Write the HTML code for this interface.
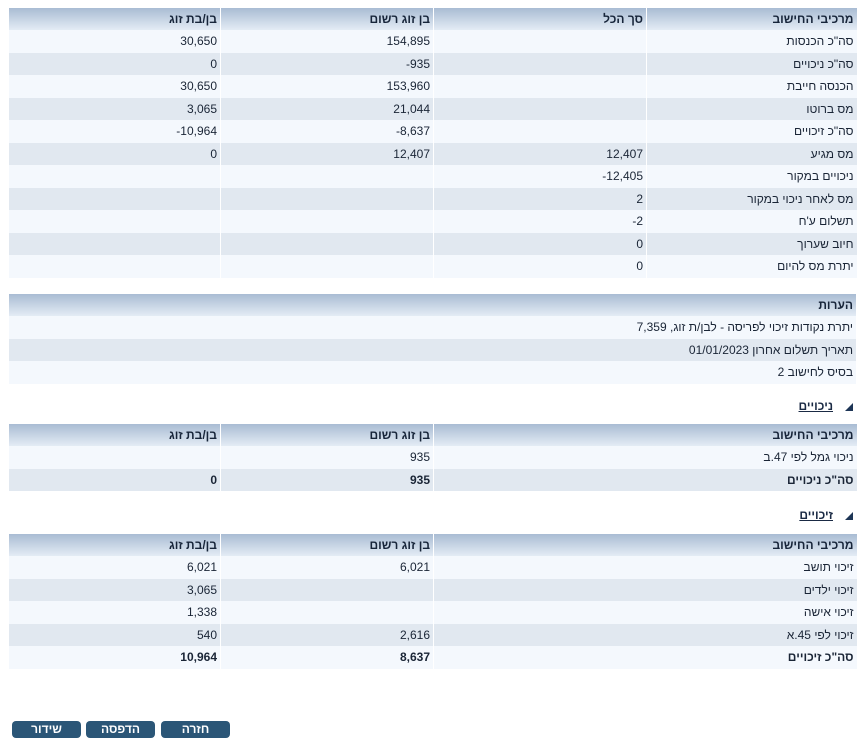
<!DOCTYPE html>
<html><head><meta charset="utf-8"><style>
body{margin:0;width:867px;height:742px;background:#fff;font-family:Arial,"Liberation Sans","Noto Sans CJK SC",sans-serif;font-size:12px;color:#1a2536;position:relative;overflow:hidden}
table{position:absolute;left:8px;width:848px;border-collapse:collapse;direction:rtl;table-layout:fixed}
td,th{height:22.5px;padding:0 3px;text-align:right;border-left:1px solid #fff;white-space:nowrap;overflow:hidden}
th{background:linear-gradient(#a9bcd3,#e4ecf5);font-weight:bold;height:22px;color:#17253a}
tr:nth-child(even) td{background:#f4f8fd}
tr:nth-child(odd) td{background:#e1e8f0}
.b td{font-weight:bold}
.lnk{position:absolute;right:14px;direction:rtl;font-weight:bold;text-decoration:underline;color:#1a2a44}
.lnk span{display:inline-block;width:0;height:0;border-bottom:8px solid #1d3556;border-left:8px solid transparent;margin-left:12px;text-decoration:none;vertical-align:-1px}
.btn{position:absolute;top:721px;height:17px;width:69px;background:#2b5677;color:#fff;border-radius:4px;text-align:center;line-height:17px;font-weight:bold;font-size:12px}
</style></head><body>
<table style="top:8px">
<colgroup><col style="width:210px"><col style="width:213px"><col style="width:213px"><col style="width:212px"></colgroup>
<tr><th>מרכיבי החישוב</th><th>סך הכל</th><th>בן זוג רשום</th><th>בן/בת זוג</th></tr>
<tr><td>סה"כ הכנסות</td><td></td><td>154,895</td><td>30,650</td></tr>
<tr><td>סה"כ ניכויים</td><td></td><td dir="ltr">-935</td><td>0</td></tr>
<tr><td>הכנסה חייבת</td><td></td><td>153,960</td><td>30,650</td></tr>
<tr><td>מס ברוטו</td><td></td><td>21,044</td><td>3,065</td></tr>
<tr><td>סה"כ זיכויים</td><td></td><td dir="ltr">-8,637</td><td dir="ltr">-10,964</td></tr>
<tr><td>מס מגיע</td><td>12,407</td><td>12,407</td><td>0</td></tr>
<tr><td>ניכויים במקור</td><td dir="ltr">-12,405</td><td></td><td></td></tr>
<tr><td>מס לאחר ניכוי במקור</td><td>2</td><td></td><td></td></tr>
<tr><td>תשלום ע'ח</td><td dir="ltr">-2</td><td></td><td></td></tr>
<tr><td>חיוב שערוך</td><td>0</td><td></td><td></td></tr>
<tr><td>יתרת מס להיום</td><td>0</td><td></td><td></td></tr>
</table>
<table style="top:294px">
<tr><th>הערות</th></tr>
<tr><td>יתרת נקודות זיכוי לפריסה - לבן/ת זוג, 7,359</td></tr>
<tr><td>תאריך תשלום אחרון 01/01/2023</td></tr>
<tr><td>בסיס לחישוב 2</td></tr>
</table>
<div class="lnk" style="top:399px"><span></span>ניכויים</div>
<table style="top:424px">
<colgroup><col style="width:423px"><col style="width:213px"><col style="width:212px"></colgroup>
<tr><th>מרכיבי החישוב</th><th>בן זוג רשום</th><th>בן/בת זוג</th></tr>
<tr><td>ניכוי גמל לפי 47.ב</td><td>935</td><td></td></tr>
<tr class="b"><td>סה"כ ניכויים</td><td>935</td><td>0</td></tr>
</table>
<div class="lnk" style="top:508px"><span></span>זיכויים</div>
<table style="top:534px">
<colgroup><col style="width:423px"><col style="width:213px"><col style="width:212px"></colgroup>
<tr><th>מרכיבי החישוב</th><th>בן זוג רשום</th><th>בן/בת זוג</th></tr>
<tr><td>זיכוי תושב</td><td>6,021</td><td>6,021</td></tr>
<tr><td>זיכוי ילדים</td><td></td><td>3,065</td></tr>
<tr><td>זיכוי אישה</td><td></td><td>1,338</td></tr>
<tr><td>זיכוי לפי 45.א</td><td>2,616</td><td>540</td></tr>
<tr class="b"><td>סה"כ זיכויים</td><td>8,637</td><td>10,964</td></tr>
</table>
<div class="btn" style="left:12px">שידור</div>
<div class="btn" style="left:86px">הדפסה</div>
<div class="btn" style="left:161px">חזרה</div>
</body></html>
